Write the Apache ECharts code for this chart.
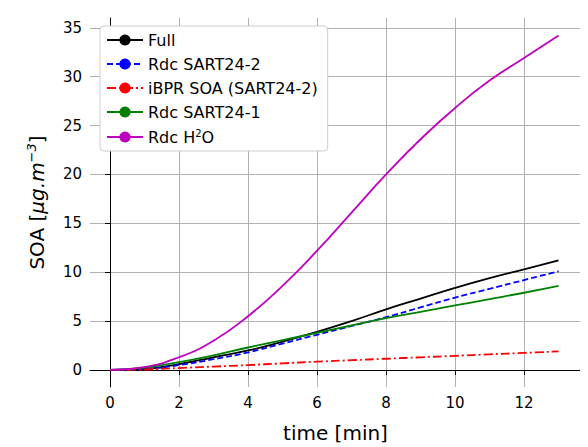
<script src="https://cdn.jsdelivr.net/npm/echarts@6.0.0/dist/echarts.min.js"></script>
<div id="chart" style="width:588px;height:447px;"></div>
<script>
const time = [0,1,2,3,4,5,6,7,8,9,10,11,12,13];
const full = [0,0.1,0.6,1.3,2.0,2.9,3.9,5.0,6.2,7.3,8.4,9.4,10.3,11.2];
const rdc2 = [0,0.1,0.5,1.1,1.8,2.7,3.6,4.5,5.4,6.4,7.4,8.3,9.2,10.1];
const ibpr = [0,0.05,0.2,0.35,0.5,0.68,0.85,1.0,1.15,1.3,1.45,1.6,1.75,1.9];
const rdc1 = [0,0.25,0.8,1.5,2.3,3.05,3.8,4.55,5.3,5.95,6.6,7.25,7.9,8.6];
const rdcH2O = [0,0.3,1.3,3.0,5.5,8.6,12.2,16.1,20.0,23.6,26.8,29.6,31.9,34.2];
const names = ['Full','Rdc SART24-2','iBPR SOA (SART24-2)','Rdc SART24-1','Rdc H2O'];
const xTicks = [0,2,4,6,8,10,12];
const yTicks = [0,5,10,15,20,25,30,35];

const chart = echarts.init(document.getElementById('chart'), null, {renderer:'svg'});
const mk = (name, data, color, type) => ({
  name, type:'line', data: time.map((t,i)=>[t,data[i]]), smooth:true, symbol:'none',
  lineStyle:{color, width:1.8, type}, itemStyle:{color}
});
chart.setOption({
  animation:false,
  textStyle:{fontFamily:'DejaVu Sans'},
  grid:{left:82,right:15,top:10,bottom:68},
  legend:{
    left:92, top:18, orient:'vertical', backgroundColor:'#fff', borderColor:'#ccc', borderWidth:1,
    borderRadius:4, padding:[6,10,6,6], itemGap:8, itemWidth:36, itemHeight:14,
    textStyle:{fontSize:16, color:'#000',
      rich:{sup:{fontSize:10, verticalAlign:'top', padding:[0,0,8,0]}}},
    formatter: n => n === 'Rdc H2O' ? 'Rdc H{sup|2}O' : n,
    data: names
  },
  xAxis:{type:'value', min:-0.58, max:13.65,
    name:'time [min]', nameLocation:'middle', nameGap:36, nameTextStyle:{fontSize:20,color:'#000'},
    axisLine:{lineStyle:{color:'#000'}}, axisTick:{customValues:xTicks,lineStyle:{color:'#000'}},
    axisLabel:{customValues:xTicks,fontSize:15,color:'#000'},
    splitLine:{show:true,lineStyle:{color:'#b0b0b0'}}},
  yAxis:{type:'value', min:-1.74, max:36,
    name:'{a|SOA [}{i|μg.m}{s|−3}{a|]}', nameLocation:'middle', nameGap:42,
    nameTextStyle:{rich:{a:{fontSize:20,color:'#000'},i:{fontSize:20,fontStyle:'italic',color:'#000'},
      s:{fontSize:13,fontStyle:'italic',color:'#000',padding:[0,0,10,0]}}},
    axisLine:{show:true,lineStyle:{color:'#000'}}, axisTick:{show:true,customValues:yTicks,lineStyle:{color:'#000'}},
    axisLabel:{customValues:yTicks,fontSize:15,color:'#000'},
    splitLine:{show:true,lineStyle:{color:'#b0b0b0'}}},
  series:[
    mk(names[0], full, '#000', 'solid'),
    mk(names[1], rdc2, '#0000ff', [6,3]),
    mk(names[2], ibpr, '#ff0000', [9,3,2,3]),
    mk(names[3], rdc1, '#008000', 'solid'),
    mk(names[4], rdcH2O, '#bf00bf', 'solid')
  ]
});
</script>
